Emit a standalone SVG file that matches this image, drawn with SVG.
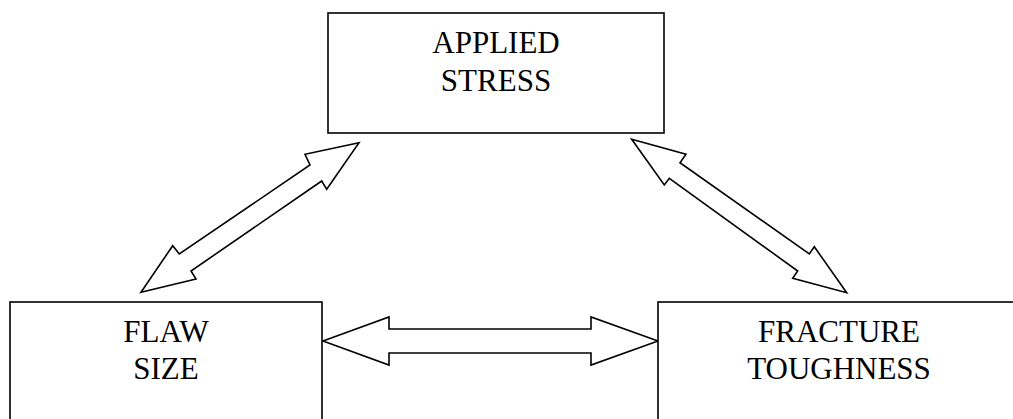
<svg xmlns="http://www.w3.org/2000/svg" width="1013" height="419" viewBox="0 0 1013 419">
<style>
.box{fill:#fff;stroke:#000;stroke-width:1.6}
.arr{fill:#fff;stroke:#000;stroke-width:1.6;stroke-linejoin:miter}
.t{font-family:"Liberation Serif","Times New Roman",serif;font-size:31px;fill:#000;text-anchor:middle}
</style>
<rect width="1013" height="419" fill="#fff"/>
<g id="connectors">
<polygon class="arr" points="359,142.7 305,154.3 310,165 179.3,254 172.7,245.7 141,292.3 196,279 191,271 321.7,181 326.7,189.3"/>
<polygon class="arr" points="631.7,139.3 686,154.3 680,162.7 809.3,254 814.3,246.7 846.7,292.7 792.7,278.3 797.7,271 669.3,178.3 664.3,185"/>
<polygon class="arr" points="323,341 389,317 389,329 591,329 591,317 658,341 591,365 591,353 389,353 389,365"/>
</g>
<g id="applied-stress">
<rect class="box" x="328" y="13" width="336" height="120"/>
<text class="t" x="496" y="53">APPLIED</text>
<text class="t" x="496" y="91">STRESS</text>
</g>
<g id="flaw-size">
<rect class="box" x="10" y="302" width="312" height="130"/>
<text class="t" x="166" y="342">FLAW</text>
<text class="t" x="166" y="379">SIZE</text>
</g>
<g id="fracture-toughness">
<rect class="box" x="658" y="302" width="362" height="130"/>
<text class="t" x="839" y="342">FRACTURE</text>
<text class="t" x="839" y="379">TOUGHNESS</text>
</g>
</svg>
